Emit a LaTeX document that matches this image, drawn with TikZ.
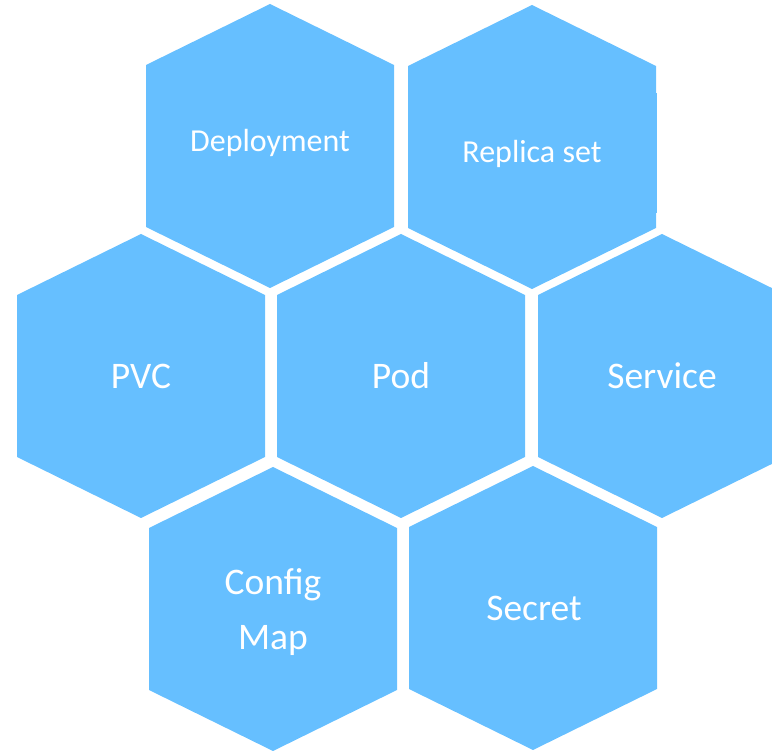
\documentclass[tikz,border=0pt]{standalone}
\usepackage{fontspec}
\setmainfont{Carlito}
\definecolor{cellblue}{RGB}{102,191,255}
% hexagon: half width 124, vertical half edge 81, apex 142 above/below centre
\newcommand\hexcell[3]{%
  \fill[cellblue] (#2-124,#3-81) -- (#2-124,#3+81) -- (#2,#3+142)
    -- (#2+124,#3+81) -- (#2+124,#3-81) -- (#2,#3-142) -- cycle;
  \coordinate (#1) at (#2,#3);}
\tikzset{
  celltext/.style={text=white, align=center, inner sep=0pt,
    font=\fontsize{37.5}{55}\selectfont},
  smalltext/.style={celltext, font=\fontsize{32}{38}\selectfont}
}
\begin{document}
\begin{tikzpicture}[x=1pt,y=-1pt]
  \useasboundingbox (0,0) rectangle (772,751);
  \clip (0,0) rectangle (772,751);
  \hexcell{dep}{270}{146}
  \hexcell{rep}{532}{147}
  \fill[cellblue] (654,93) rectangle (657,213);
  \hexcell{pvc}{141}{376}
  \hexcell{pod}{401}{376}
  \hexcell{svc}{662}{376}
  \hexcell{cfg}{273}{609}
  \hexcell{sec}{533}{608}
  \node[smalltext, anchor=base] (tdep) at (270,152) {Deployment};
  \node[smalltext, anchor=base] (trep) at (532,163) {Replica set};
  \node[celltext, anchor=base] (tpvc) at (141,389) {PVC};
  \node[celltext, anchor=base] (tpod) at (401,389) {Pod};
  \node[celltext, anchor=base] (tsvc) at (662,389) {Service};
  \node[celltext, anchor=base] (tcfg) at (273,649) {Config\\Map};
  \node[celltext, anchor=base] (tsec) at (534,620) {Secret};
\end{tikzpicture}
\end{document}
